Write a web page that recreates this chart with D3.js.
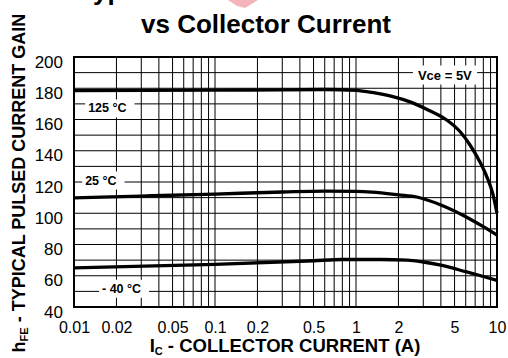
<!DOCTYPE html>
<html>
<head>
<meta charset="utf-8">
<script src="https://cdn.jsdelivr.net/npm/d3@7"></script>
<style>
  body { margin: 0; background: #fff; }
  svg { display: block; font-family: "Liberation Sans", Arial, sans-serif; }
</style>
</head>
<body>
<svg id="chart" width="508" height="358"></svg>
<script>
// hFE vs Ic, three temperatures
const ic125 = [0.01, 0.1, 0.3, 0.6, 1.0, 1.3, 1.8, 2.5, 3.3, 4.4, 5.5, 6.4, 7.5, 8.5, 9.3, 10];
const hfe125 = [178.5, 178.8, 179, 179.2, 178.6, 177.3, 174.8, 170.8, 165.8, 159.7, 152, 144, 133.5, 123, 113, 100];

const ic25 = [0.01, 0.03, 0.1, 0.3, 0.6, 1.0, 1.3, 2.0, 2.7, 4.0, 6.0, 8.0, 10];
const hfe25 = [109.8, 111, 112.3, 113.6, 114.2, 114, 113.5, 111.8, 110.4, 105.3, 97.8, 91.4, 86];

const icM40 = [0.01, 0.1, 0.5, 0.8, 1.5, 2.3, 3.0, 4.0, 6.0, 8.0, 10];
const hfeM40 = [65, 67.3, 69.6, 70.4, 70.4, 70, 68.8, 66.8, 62.6, 59.5, 57];

const xTicks = [0.01, 0.02, 0.05, 0.1, 0.2, 0.5, 1, 2, 5, 10];
const yTicks = [40, 60, 80, 100, 120, 140, 160, 180, 200];

const seriesLabels = [
  { text: "125 °C", ic: 0.0126, hfe: 164.5 },
  { text: "25 °C", ic: 0.012, hfe: 118.4 },
  { text: "- 40 °C", ic: 0.0158, hfe: 49.1 }
];
const condLabel = { text: "Vce = 5V", ic: 2.75, hfe: 185.6 };

const svg = d3.select("#chart");
const mLeft = 74, mRight = 497, mTop = 57, mBottom = 307;

const x = d3.scaleLog().domain([0.01, 10]).range([mLeft, mRight]);
const y = d3.scaleLinear().domain([40, 200]).range([mBottom, mTop]);

// watermark fragment + cut-off first title line
svg.append("polygon")
  .attr("points", "228,0 258,0 245,8 237,6")
  .attr("fill", "#f3b5bb");
svg.append("text")
  .attr("x", 79).attr("y", 0)
  .attr("font-size", 26).attr("font-weight", "bold")
  .text("Typical Pulsed Current Gain");
svg.append("text")
  .attr("x", 266).attr("y", 33)
  .attr("text-anchor", "middle")
  .attr("font-size", 26).attr("font-weight", "bold")
  .text("vs Collector Current");

// grid
const gx = [];
for (let dec = 0.01; dec < 10; dec *= 10) {
  for (let k = 1; k <= 9; k++) gx.push(+(k * dec).toPrecision(3));
}
gx.push(10);
const gy = d3.range(40, 201, 10);

const grid = svg.append("g");
grid.selectAll(".vx")
  .data(gx)
  .enter()
  .append("line")
  .attr("x1", d => x(d)).attr("x2", d => x(d))
  .attr("y1", mTop).attr("y2", mBottom)
  .attr("stroke", "#000").attr("stroke-width", 1);
grid.selectAll(".hy")
  .data(gy)
  .enter()
  .append("line")
  .attr("x1", mLeft).attr("x2", mRight)
  .attr("y1", d => y(d)).attr("y2", d => y(d))
  .attr("stroke", "#000").attr("stroke-width", 1);

svg.append("rect")
  .attr("x", mLeft).attr("y", mTop)
  .attr("width", mRight - mLeft).attr("height", mBottom - mTop)
  .attr("fill", "none").attr("stroke", "#000").attr("stroke-width", 2);

// curves
const line = d3.line()
  .x(d => x(d[0]))
  .y(d => y(d[1]))
  .curve(d3.curveMonotoneX);

[[ic125, hfe125], [ic25, hfe25], [icM40, hfeM40]].forEach(([ic, h]) => {
  svg.append("path")
    .datum(ic.map((v, i) => [v, h[i]]))
    .attr("d", line)
    .attr("fill", "none")
    .attr("stroke", "#000")
    .attr("stroke-width", 3.3);
});

// labels with white boxes
function boxLabel(l, size, padL, padR) {
  const g = svg.append("g");
  const t = g.append("text")
    .attr("x", x(l.ic)).attr("y", y(l.hfe))
    .attr("font-size", size).attr("font-weight", "bold")
    .text(l.text);
  const b = t.node().getBBox();
  g.insert("rect", "text")
    .attr("x", b.x - padL).attr("y", b.y - 2)
    .attr("width", b.width + padL + padR).attr("height", b.height + 4)
    .attr("fill", "#fff");
}
seriesLabels.forEach(l => boxLabel(l, 12.5, 3, 8));
boxLabel(condLabel, 13, 5, 5);

// axes
const xAxis = svg.append("g")
  .attr("transform", `translate(0,${mBottom})`)
  .call(d3.axisBottom(x).tickValues(xTicks).tickSize(0).tickFormat(d3.format("")));
xAxis.select(".domain").remove();
xAxis.selectAll("text")
  .attr("dy", null).attr("y", 26)
  .attr("font-size", 16).attr("font-family", null).attr("fill", "#000");

const yAxis = svg.append("g")
  .attr("transform", `translate(${mLeft - 11},0)`)
  .call(d3.axisLeft(y).tickValues(yTicks).tickSize(0).tickPadding(0));
yAxis.select(".domain").remove();
yAxis.selectAll("text")
  .attr("dy", null).attr("y", 10)
  .attr("font-size", 17).attr("font-family", null).attr("fill", "#000");

// axis titles
const xt = svg.append("text")
  .attr("x", 285).attr("y", 352)
  .attr("text-anchor", "middle")
  .attr("font-size", 18.5).attr("font-weight", "bold");
xt.append("tspan").text("I");
xt.append("tspan").attr("font-size", 11).attr("dy", 3).text("C");
xt.append("tspan").attr("dy", -3).text(" - COLLECTOR CURRENT  (A)");

const yt = svg.append("text")
  .attr("transform", "translate(25,183) rotate(-90)")
  .attr("text-anchor", "middle")
  .attr("font-size", 18).attr("font-weight", "bold");
yt.append("tspan").text("h");
yt.append("tspan").attr("font-size", 11).attr("dy", 3).text("FE");
yt.append("tspan").attr("dy", -3).text(" - TYPICAL PULSED CURRENT GAIN");
</script>
</body>
</html>
